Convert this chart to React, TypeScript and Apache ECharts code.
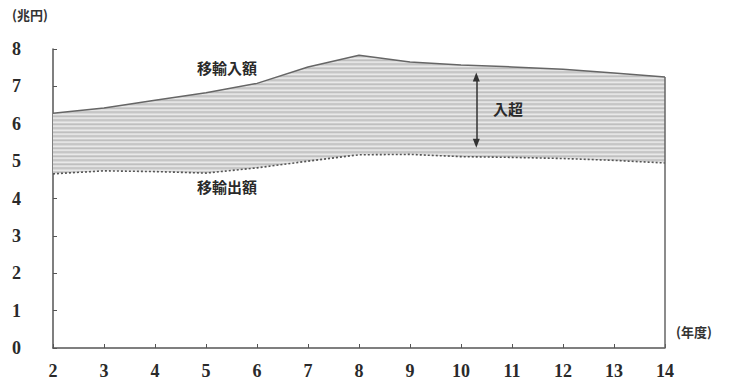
import React, { useEffect, useRef } from "react";
import * as echarts from "echarts";

// 年度 (平成)
const years = [2, 3, 4, 5, 6, 7, 8, 9, 10, 11, 12, 13, 14];
// 移輸入額 (兆円)
const importValues = [6.28, 6.42, 6.63, 6.83, 7.08, 7.52, 7.83, 7.65, 7.57, 7.52, 7.46, 7.36, 7.25];
// 移輸出額 (兆円)
const exportValues = [4.66, 4.74, 4.72, 4.68, 4.82, 5.0, 5.17, 5.18, 5.12, 5.1, 5.07, 5.02, 4.95];
const yTicks = [0, 1, 2, 3, 4, 5, 6, 7, 8];

// 入超 arrow: year position and span
const arrowYear = 10.3;
const arrowSpan = [5.48, 7.25];

const JP_FONT = '"Noto Sans CJK JP", sans-serif';
const NUM_FONT = '"Liberation Serif", "DejaVu Serif", serif';

function makeStripePattern(): HTMLCanvasElement {
  const c = document.createElement("canvas");
  const rows = ["#c6c6c6", "#d9d9d9", "#e9e9e9", "#cdcdcd", "#bfbfbf", "#dcdcdc", "#e4e4e4", "#c9c9c9"];
  c.width = 4;
  c.height = rows.length;
  const ctx = c.getContext("2d")!;
  rows.forEach((col, i) => {
    ctx.fillStyle = col;
    ctx.fillRect(0, i, 4, 1);
  });
  return c;
}

export default function App() {
  const ref = useRef<HTMLDivElement>(null);

  useEffect(() => {
    if (!ref.current) return;
    const chart = echarts.init(ref.current, null, { renderer: "svg" });
    const last = years.length - 1;
    const pattern = makeStripePattern();

    chart.setOption({
      animation: false,
      grid: { left: 53, right: 72, top: 49, bottom: 33 },
      xAxis: {
        type: "value",
        min: 2,
        max: 14,
        interval: 1,
        axisLine: { show: true, lineStyle: { color: "#555", width: 1.5 } },
        axisTick: { show: true, inside: true, length: 4, lineStyle: { color: "#555" } },
        splitLine: { show: false },
        axisLabel: {
          margin: 14,
          color: "#2a2a2a",
          fontFamily: NUM_FONT,
          fontWeight: "bold",
          fontSize: 18,
        },
      },
      yAxis: {
        type: "value",
        min: yTicks[0],
        max: yTicks[yTicks.length - 1],
        interval: 1,
        axisLine: { show: true, lineStyle: { color: "#555", width: 1.5 } },
        axisTick: { show: true, inside: true, length: 4, lineStyle: { color: "#555" } },
        splitLine: { show: false },
        axisLabel: {
          margin: 32,
          color: "#2a2a2a",
          fontFamily: NUM_FONT,
          fontWeight: "bold",
          fontSize: 18,
        },
      },
      series: [
        {
          // shaded band between 移輸入額 and 移輸出額
          name: "入超",
          type: "custom",
          data: [0],
          silent: true,
          z: 2,
          renderItem: (_params: any, api: any) => {
            const top = years.map((y, i) => api.coord([y, importValues[i]]));
            const bottom = years.map((y, i) => api.coord([y, exportValues[i]])).reverse();
            return {
              type: "polygon",
              shape: { points: top.concat(bottom) },
              style: { fill: { image: pattern, repeat: "repeat" } },
            };
          },
        },
        {
          name: "移輸入額",
          type: "line",
          data: years.map((y, i) => [y, importValues[i]]),
          symbol: "none",
          lineStyle: { color: "#666", width: 1.5 },
          markLine: {
            silent: true,
            symbol: ["none", "none"],
            label: { show: false },
            lineStyle: { color: "#666", width: 1.5, type: "solid" },
            data: [[{ coord: [years[last], 0] }, { coord: [years[last], importValues[last]] }]],
          },
          z: 3,
        },
        {
          name: "移輸出額",
          type: "line",
          data: years.map((y, i) => [y, exportValues[i]]),
          symbol: "none",
          lineStyle: { color: "#555", width: 1.6, type: [2, 2] },
          z: 4,
        },
        {
          name: "arrow",
          type: "line",
          data: [],
          markLine: {
            silent: true,
            symbol: ["triangle", "triangle"],
            symbolSize: [7, 9],
            label: { show: false },
            lineStyle: { color: "#333", width: 1.5, type: "solid" },
            data: [[{ coord: [arrowYear, arrowSpan[1]] }, { coord: [arrowYear, arrowSpan[0]] }]],
          },
          z: 5,
        },
      ],
      graphic: [
        {
          type: "text",
          left: 12,
          top: 8,
          z: 10,
          style: { text: "(兆円)", fill: "#333", font: `bold 13px ${JP_FONT}` },
        },
        {
          type: "text",
          left: 676,
          top: 325,
          z: 10,
          style: { text: "(年度)", fill: "#333", font: `bold 13px ${JP_FONT}` },
        },
        {
          type: "text",
          left: 197,
          top: 60,
          z: 10,
          style: { text: "移輸入額", fill: "#2a2a2a", font: `bold 15px ${JP_FONT}` },
        },
        {
          type: "text",
          left: 197,
          top: 179,
          z: 10,
          style: { text: "移輸出額", fill: "#2a2a2a", font: `bold 15px ${JP_FONT}` },
        },
        {
          type: "text",
          left: 493,
          top: 101,
          z: 10,
          style: { text: "入超", fill: "#2a2a2a", font: `bold 15px ${JP_FONT}` },
        },
      ],
    });

    return () => chart.dispose();
  }, []);

  return <div ref={ref} style={{ width: 737, height: 381, position: "absolute", left: 0, top: 0 }} />;
}
